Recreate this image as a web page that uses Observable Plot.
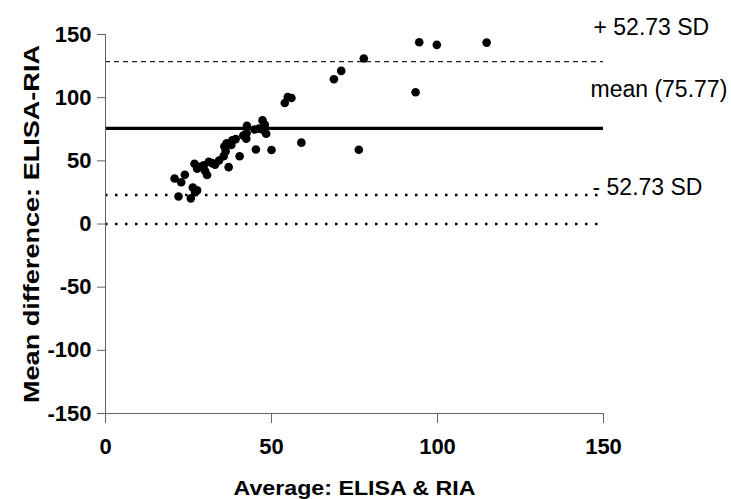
<!DOCTYPE html>
<html>
<head>
<meta charset="utf-8">
<script src="https://cdn.jsdelivr.net/npm/d3@7"></script>
<script src="https://cdn.jsdelivr.net/npm/@observablehq/plot@0.6"></script>
<style>
  html, body { margin: 0; padding: 0; background: #fff; }
  #chart svg { display: block; }
</style>
</head>
<body>
<div id="chart"></div>
<script>
// Average of the two methods (x) and difference ELISA-RIA (y)
const average = [
  20.8, 22.0, 22.8, 23.9, 25.7, 26.3, 27.0, 27.6, 26.8, 27.6,
  28.6, 29.6, 30.6, 31.1, 32.1, 30.0, 33.0, 34.2, 35.6, 37.1,
  35.8, 36.5, 37.9, 38.2, 39.2, 36.2, 40.4, 42.4, 42.6, 42.5,
  41.5, 45.3, 44.9, 46.2, 47.3, 48.0, 48.4, 47.7, 50.0, 54.0,
  54.9, 56.0, 59.0, 68.8, 71.0, 77.8, 76.3, 93.4, 94.5, 99.8,
  114.8
];
const difference = [
  36.0, 21.8, 33.1, 39.0, 20.3, 28.8, 25.2, 26.6, 47.7, 43.7,
  45.2, 46.4, 38.8, 49.3, 48.2, 42.0, 47.0, 50.3, 53.7, 45.0,
  61.4, 63.8, 62.5, 66.2, 67.2, 57.5, 53.6, 67.5, 77.8, 71.8,
  70.0, 59.0, 74.8, 75.5, 82.0, 78.5, 71.5, 74.1, 58.6, 95.8,
  100.5, 99.7, 64.4, 114.6, 121.2, 131.0, 58.8, 104.3, 143.9, 141.8,
  143.6
];
const meanDiff = 75.77;
const sdValue = 52.73;
const xTicks = [0, 50, 100, 150];
const yTicks = [-150, -100, -50, 0, 50, 100, 150];
const refLabels = ["+ 52.73 SD", "mean (75.77)", "- 52.73 SD"];
const xTitle = "Average: ELISA & RIA";
const yTitle = "Mean difference: ELISA-RIA";

const points = average.map((a, i) => ({x: a, y: difference[i]}));
const upper = meanDiff + sdValue;
const lower = meanDiff - sdValue;

const font = "'Liberation Sans', Arial, sans-serif";
const axisColor = "#666";
const fmt = d => String(d);

const chart = Plot.plot({
  width: 731,
  height: 499,
  marginLeft: 105,
  marginRight: 128,
  marginTop: 34,
  marginBottom: 86,
  style: {fontFamily: font, fontSize: "22px", fontWeight: "bold", color: "#000", background: "#fff"},
  x: {domain: [0, 150]},
  y: {domain: [-150, 150]},
  marks: [
    // reference lines
    Plot.ruleY([0], {x1: 0, x2: 150, stroke: "#000", strokeWidth: 2.5, strokeDasharray: "2.5,7.5"}),
    Plot.ruleY([lower], {x1: 0, x2: 150, stroke: "#000", strokeWidth: 2.5, strokeDasharray: "2.5,7.5"}),
    Plot.ruleY([upper], {x1: 0, x2: 150, stroke: "#222", strokeWidth: 1.3, strokeDasharray: "5,4"}),
    Plot.ruleY([meanDiff], {x1: 0, x2: 150, stroke: "#000", strokeWidth: 3.3}),
    // axis lines
    Plot.ruleX([0], {y1: -150, y2: 150, stroke: axisColor, strokeWidth: 1}),
    Plot.ruleY([-150], {x1: 0, x2: 150, stroke: axisColor, strokeWidth: 1}),
    Plot.axisX({ticks: xTicks, tickSize: 10, tickPadding: 15, stroke: axisColor, fill: "#000", label: null, tickFormat: fmt}),
    Plot.axisY({ticks: yTicks, tickSize: 8, tickPadding: 6, stroke: axisColor, fill: "#000", label: null, tickFormat: fmt}),
    // points
    Plot.dot(points, {x: "x", y: "y", r: 4.3, fill: "#000", stroke: null}),
    // right-side labels
    Plot.text([refLabels[0]], {x: () => 150, y: () => upper, text: d => d, textAnchor: "start", dx: -10, dy: -34.4, fontSize: 23, fontWeight: "normal", fill: "#000"}),
    Plot.text([refLabels[1]], {x: () => 150, y: () => meanDiff, text: d => d, textAnchor: "start", dx: -13, dy: -39, fontSize: 23, fontWeight: "normal", fill: "#000"}),
    Plot.text([refLabels[2]], {x: () => 150, y: () => lower, text: d => d, textAnchor: "start", dx: -11, dy: -7, fontSize: 23, fontWeight: "normal", fill: "#000"}),
    // axis titles
    Plot.text([xTitle], {frameAnchor: "bottom", text: d => d, textAnchor: "middle", lineAnchor: "middle", dy: 75, fontSize: 21, fontWeight: "bold", fill: "#000"}),
    Plot.text([yTitle], {frameAnchor: "left", text: d => d, textAnchor: "middle", lineAnchor: "middle", dx: -74, rotate: -90, fontSize: 22, fontWeight: "bold", fill: "#000"})
  ]
});
// stretch axis titles horizontally to match the reference's wide type
chart.querySelectorAll("text").forEach(t => {
  if (t.textContent === yTitle) { t.setAttribute("textLength", 358); t.setAttribute("lengthAdjust", "spacingAndGlyphs"); }
  if (t.textContent === xTitle) { t.setAttribute("textLength", 242); t.setAttribute("lengthAdjust", "spacingAndGlyphs"); }
});
document.getElementById("chart").appendChild(chart);
</script>
</body>
</html>
